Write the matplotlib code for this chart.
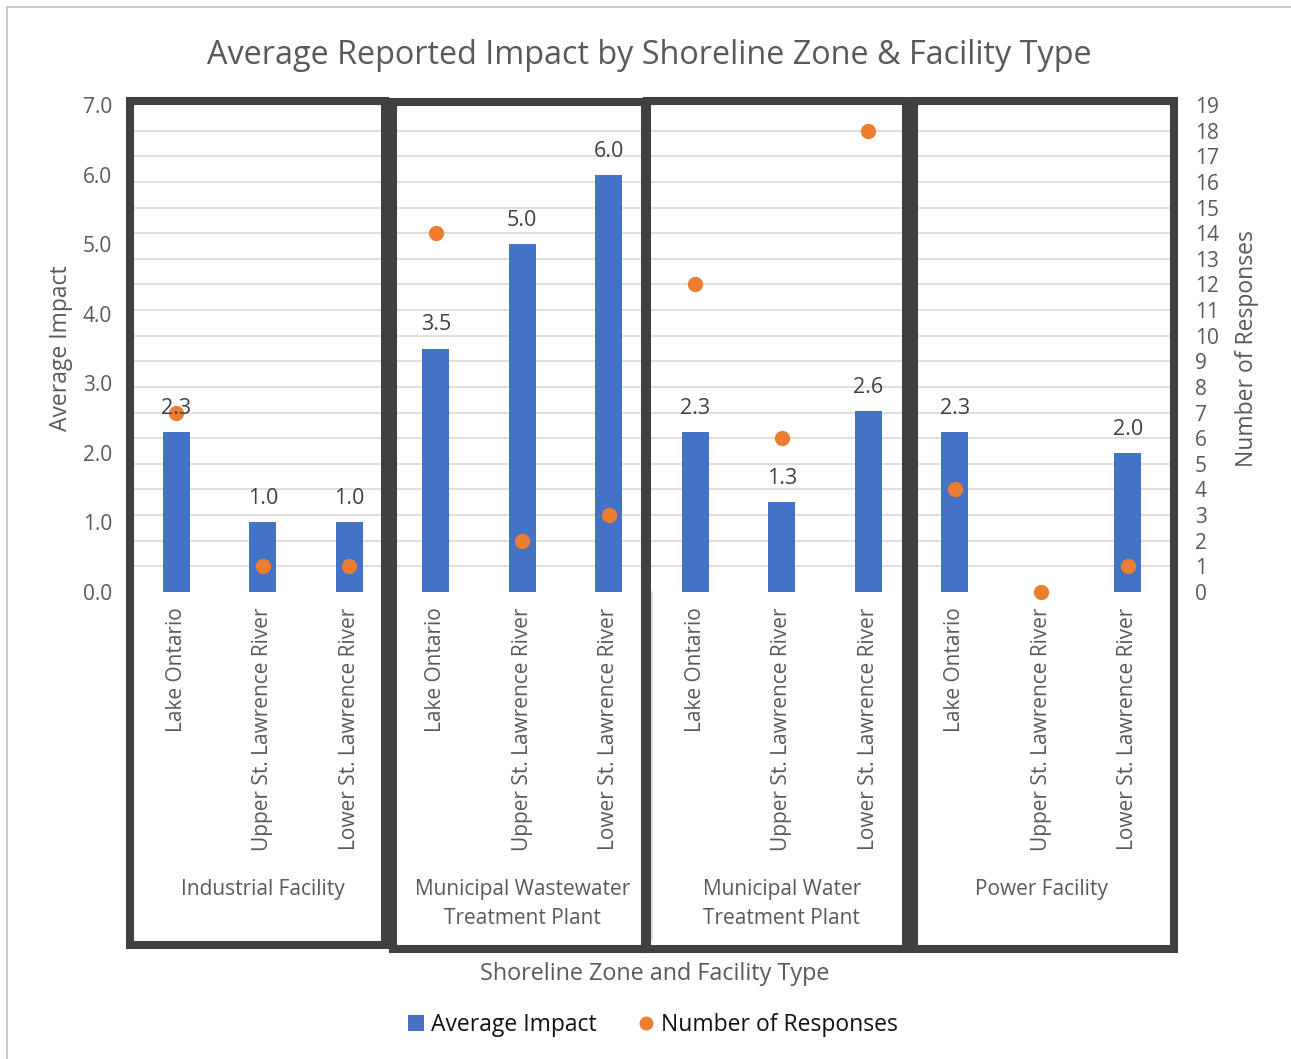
import numpy as np
import matplotlib
matplotlib.use("Agg")
import matplotlib.pyplot as plt
from matplotlib.patches import Rectangle, Patch
from matplotlib.lines import Line2D
from matplotlib.transforms import blended_transform_factory

plt.rcParams['font.family'] = ['Open Sans', 'DejaVu Sans']

# data
facilities = ["Industrial Facility",
              "Municipal Wastewater\nTreatment Plant",
              "Municipal Water\nTreatment Plant",
              "Power Facility"]
zones = ["Lake Ontario", "Upper St. Lawrence River", "Lower St. Lawrence River"]
avg_impact = [2.3, 1.0, 1.0,
              3.5, 5.0, 6.0,
              2.3, 1.3, 2.6,
              2.3, np.nan, 2.0]
n_responses = [7, 1, 1,
               14, 2, 3,
               12, 6, 18,
               4, 0, 1]

BLUE = "#4472C4"
ORANGE = "#ED7D31"
GRAY_TXT = "#595959"
BOX = "#404040"

W, H = 1291, 1059
fig = plt.figure(figsize=(W / 100, H / 100), dpi=100)

def fx(px):
    return px / W

def fy(py):
    return 1 - py / H

# plot area in pixels: left, right, top, bottom
pl, pr, pt, pb = 133, 1171, 105, 592
ax = fig.add_axes([fx(pl), fy(pb), fx(pr - pl), (pb - pt) / H])
ax2 = ax.twinx()

labels = zones * len(facilities)
x = np.arange(len(labels))

left_max, right_max = 7, 19
ax.bar(x, avg_impact, width=0.31, color=BLUE, zorder=3)
ax.set_xlim(-0.5, len(labels) - 0.5)
ax.set_ylim(0, left_max)
ax.set_yticks(np.arange(0, left_max + 1))
ax.set_yticklabels([f"{v:.1f}" for v in range(left_max + 1)])
# gridlines follow the secondary axis units
ax.set_yticks(np.arange(0, right_max + 1) * left_max / right_max, minor=True)
ax.grid(which="minor", axis="y", color="#D9D9D9", lw=1.2, zorder=0)
ax.tick_params(axis="y", which="both", length=0, pad=15, labelsize=15, labelcolor=GRAY_TXT)
ax.set_xticks(x)
ax.set_xticklabels(labels, rotation=90, va="top", ha="center")
ax.tick_params(axis="x", length=0, pad=11, labelsize=15, labelcolor=GRAY_TXT)
for s in ax.spines.values():
    s.set_visible(False)
ax.set_ylabel("Average Impact", fontsize=16.5, color=GRAY_TXT, labelpad=7)

ax2.scatter(x, n_responses, s=100, color=ORANGE, zorder=4, clip_on=False)
ax2.set_ylim(0, right_max)
ax2.set_yticks(np.arange(0, right_max + 1))
ax2.tick_params(axis="y", length=4, width=1, color="#6F93D3", pad=13,
                labelsize=15, labelcolor=GRAY_TXT)
for s in ax2.spines.values():
    s.set_visible(False)
ax2.set_ylabel("Number of Responses", fontsize=16.5, color=GRAY_TXT, labelpad=12)

# value labels above the bars (drawn on the top axes so they sit over the dots)
for xi, v in zip(x, avg_impact):
    if np.isnan(v):
        continue
    ax2.annotate(f"{v:.1f}", xy=(xi, v), xycoords=ax.transData,
                 xytext=(0, 13), textcoords="offset points",
                 ha="center", va="baseline", fontsize=15.5, color="#404040", zorder=6)

# facility group labels and separators under the axis
trans = blended_transform_factory(ax.transData, fig.transFigure)
for g, name in enumerate(facilities):
    ax.text(g * 3 + 1, fy(879), name, transform=trans, ha="center", va="top",
            fontsize=15, color=GRAY_TXT, linespacing=1.5, clip_on=False)
for b in range(len(facilities) + 1):
    fig.add_artist(Line2D([fx(pl + b * 3 * (pr - pl) / 12)] * 2, [fy(pb), fy(940)],
                          color="#D9D9D9", lw=1.2))

# thick outlines around each facility group
boxes = [(129.5, 384.5, 101, 945),
         (393, 645, 101.5, 948.5),
         (647, 906, 100.5, 949),
         (914, 1174, 101, 949)]
for l, r, t, b in boxes:
    fig.add_artist(Rectangle((fx(l), fy(b)), fx(r - l), (b - t) / H,
                             fill=False, ec=BOX, lw=5.8, joinstyle="miter", zorder=10))

# chart border
fig.add_artist(Line2D([fx(7), fx(7)], [fy(7), 0], color="#BFBFBF", lw=1.2))
fig.add_artist(Line2D([fx(7), 1], [fy(7), fy(7)], color="#BFBFBF", lw=1.2))

fig.text(fx(649), fy(55), "Average Reported Impact by Shoreline Zone & Facility Type",
         ha="center", va="center", fontsize=23.3, color=GRAY_TXT)
fig.text(fx(655), fy(974), "Shoreline Zone and Facility Type",
         ha="center", va="center", fontsize=16.8, color=GRAY_TXT)

handles = [Patch(facecolor=BLUE, edgecolor="none"),
           Line2D([], [], marker="o", ls="none", color=ORANGE, markersize=9)]
fig.legend(handles, ["Average Impact", "Number of Responses"],
           loc="center", bbox_to_anchor=(fx(653), fy(1025)), ncol=2, frameon=False,
           fontsize=16.5, handlelength=0.7, handleheight=0.7, handletextpad=0.3,
           columnspacing=1.8, labelcolor="#111111")

fig.savefig("out.png", dpi=100)
